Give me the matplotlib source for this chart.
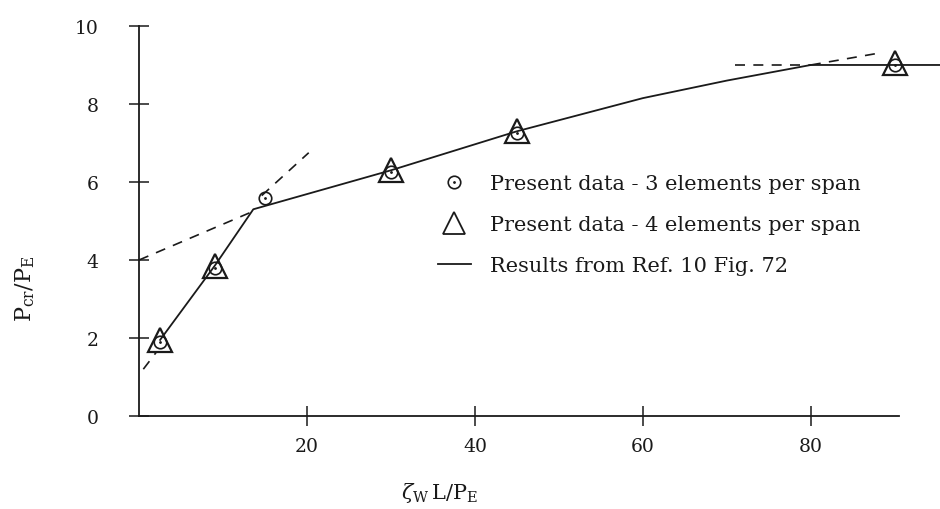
import matplotlib.pyplot as plt
from matplotlib.lines import Line2D
from matplotlib.legend_handler import HandlerTuple

plt.rcParams['font.family'] = ['DejaVu Serif']
plt.rcParams['mathtext.fontset'] = 'dejavuserif'

# data
tri_x = [2.5, 9, 30, 45, 90]
tri_y = [1.95, 3.85, 6.3, 7.3, 9.05]
circ_x = [2.5, 9, 15, 30, 45, 90]
circ_y = [1.9, 3.8, 5.6, 6.25, 7.25, 9.0]

ref_x = [2.5, 9, 13.6, 30, 45, 60, 70, 80, 95.5]
ref_y = [1.95, 3.85, 5.3, 6.3, 7.3, 8.15, 8.6, 9.0, 9.0]

# dashed asymptotes
dash1_x = [0, 13.6]
dash1_y = [4.0, 5.25]
dash2_x = [0.5, 2.1]
dash2_y = [1.2, 1.65]
dash3_x = [14.6, 20.2]
dash3_y = [5.65, 6.75]
dash4_x = [71, 80]
dash4_y = [9.0, 9.0]
dash5_x = [80, 88]
dash5_y = [9.0, 9.3]

xticks = [20, 40, 60, 80]
yticks = [0, 2, 4, 6, 8, 10]

fig = plt.figure(figsize=(9.4, 5.1), dpi=100)
ax = fig.add_axes([0.148, 0.1824, 0.853, 0.7647])

ink = '#1a1a1a'
ax.plot(ref_x, ref_y, color=ink, lw=1.3, clip_on=False)
for dx, dy in [(dash1_x, dash1_y), (dash2_x, dash2_y), (dash3_x, dash3_y),
               (dash4_x, dash4_y), (dash5_x, dash5_y)]:
    ax.plot(dx, dy, color=ink, lw=1.2, ls=(0, (6, 5)), clip_on=False)

ax.plot(tri_x, tri_y, ls='none', marker='^', ms=17, mfc='none', mec=ink, mew=1.6, clip_on=False)
ax.plot(circ_x, circ_y, ls='none', marker='o', ms=9, mfc='none', mec=ink, mew=1.2, clip_on=False)
ax.plot(circ_x, circ_y, ls='none', marker='.', ms=2, color=ink, clip_on=False)

ax.set_xlim(0, 95.5)
ax.set_ylim(0, 10)
for s in ['top', 'right']:
    ax.spines[s].set_visible(False)
ax.spines['bottom'].set_bounds(0, 90.5)
ax.spines['left'].set_color(ink)
ax.spines['bottom'].set_color(ink)
ax.spines['left'].set_linewidth(1.3)
ax.spines['bottom'].set_linewidth(1.3)

ax.set_xticks(xticks)
ax.set_yticks(yticks)
ax.tick_params(axis='both', direction='inout', length=14, width=1.1, color=ink,
               labelsize=13.5, labelcolor=ink)
ax.tick_params(axis='y', pad=22)
ax.tick_params(axis='x', pad=8)

ax.set_xlabel(r'$\zeta_{\rm W}\,{\rm L/P_E}$', fontsize=15, color=ink)
ax.xaxis.set_label_coords(0.375, -0.165)
ax.set_ylabel(r'${\rm P_{cr}/P_E}$', fontsize=16, color=ink)
ax.yaxis.set_label_coords(-0.127, 0.33)

h_circ = (Line2D([], [], ls='none', marker='o', ms=9, mfc='none', mec=ink, mew=1.2),
          Line2D([], [], ls='none', marker='.', ms=2, color=ink))
h_tri = Line2D([], [], ls='none', marker='^', ms=16, mfc='none', mec=ink, mew=1.3)
h_line = Line2D([], [], color=ink, lw=1.3)
ax.legend([h_circ, h_tri, h_line],
          ['Present data - 3 elements per span',
           'Present data - 4 elements per span',
           'Results from Ref. 10 Fig. 72'],
          handler_map={tuple: HandlerTuple(ndivide=1)},
          loc='upper left', bbox_to_anchor=(0.349, 0.668), frameon=False,
          fontsize=15, handlelength=1.6, handletextpad=0.9, labelspacing=1.05,
          labelcolor=ink)

fig.savefig('out.png', dpi=100)
